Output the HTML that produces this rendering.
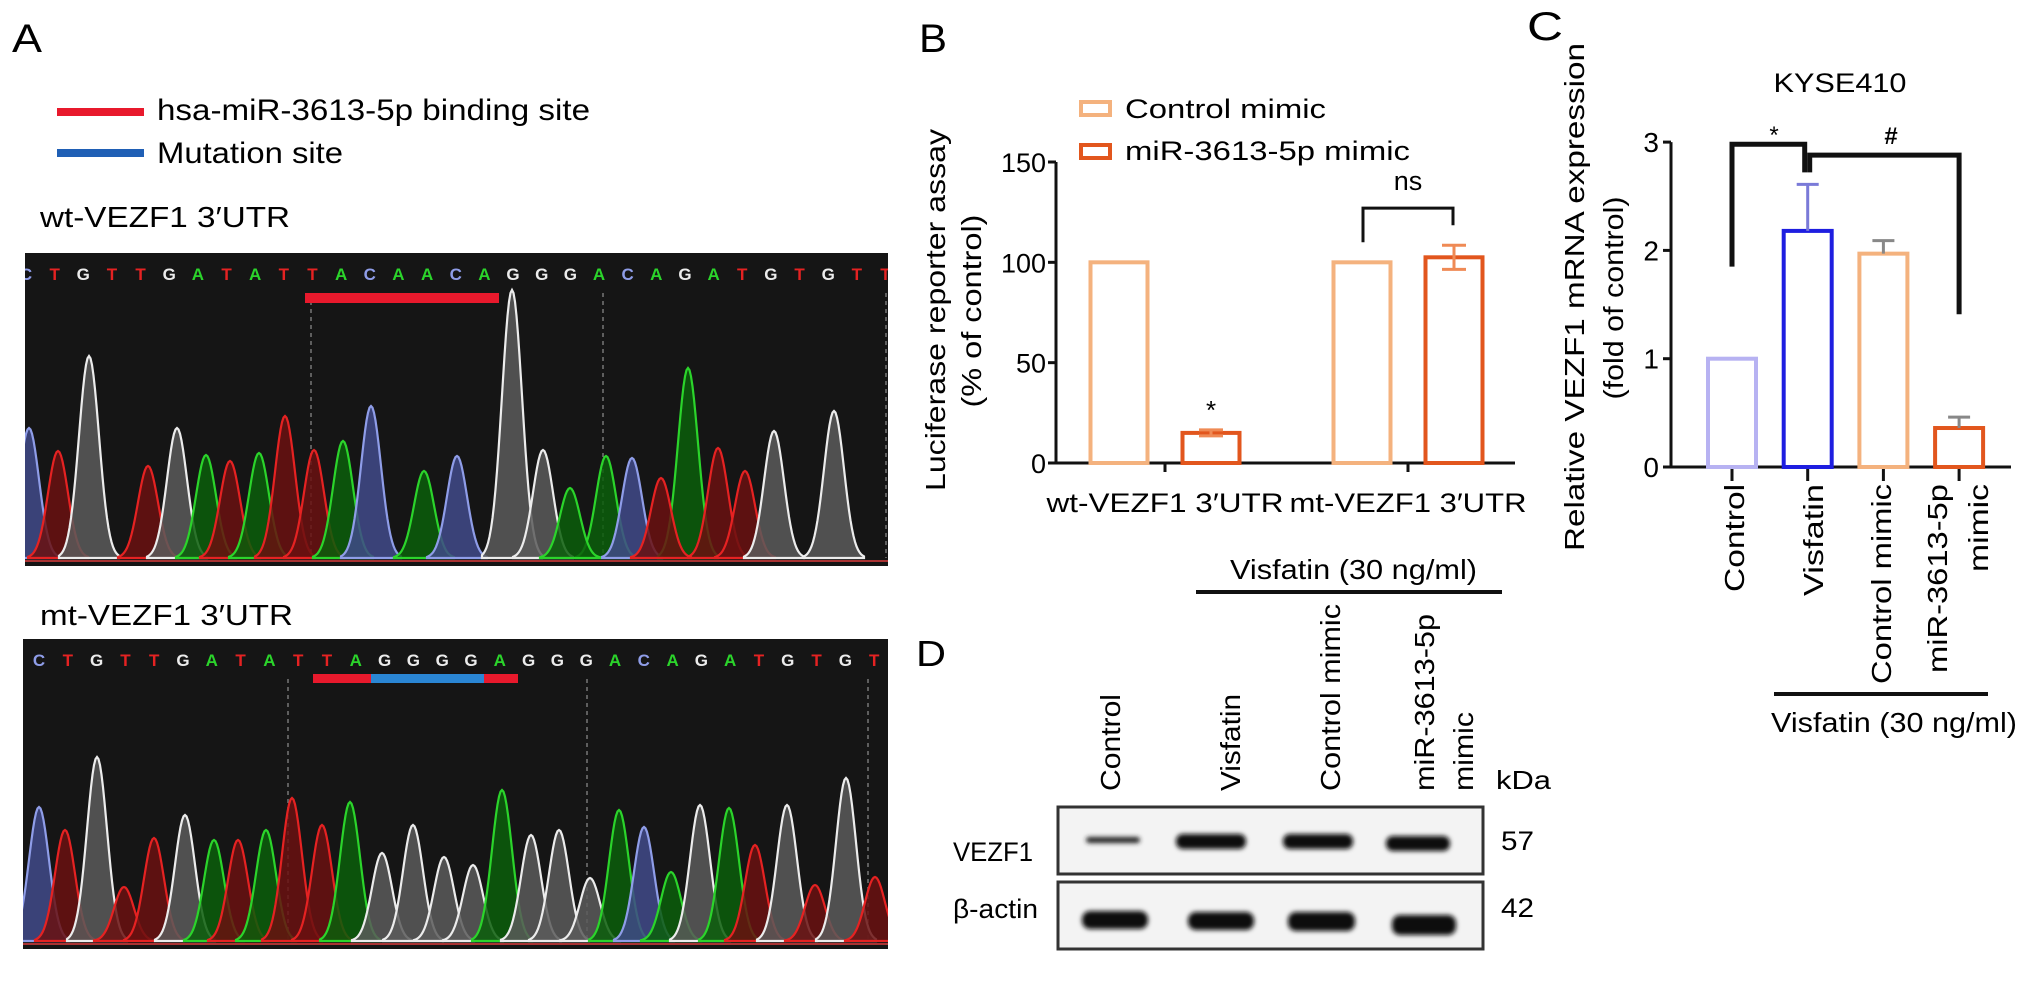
<!DOCTYPE html>
<html><head><meta charset="utf-8">
<style>
html,body{margin:0;padding:0;background:#fff;}
svg{display:block;font-family:"Liberation Sans",Arial,sans-serif;}
</style></head>
<body>
<svg id="fig" width="2032" height="988" viewBox="0 0 2032 988" xmlns="http://www.w3.org/2000/svg">
<defs>
<filter id="blur2" x="-20%" y="-50%" width="140%" height="200%"><feGaussianBlur stdDeviation="2.5"/></filter>
<clipPath id="clipWt"><rect x="25" y="253" width="863" height="313"/></clipPath>
<clipPath id="clipMt"><rect x="23" y="639" width="865" height="310"/></clipPath>
</defs>
<text x="12" y="52" font-size="40" textLength="30" lengthAdjust="spacingAndGlyphs">A</text>
<text x="919" y="52" font-size="40" textLength="28" lengthAdjust="spacingAndGlyphs">B</text>
<text x="1527" y="40" font-size="40" textLength="36" lengthAdjust="spacingAndGlyphs">C</text>
<text x="916" y="666" font-size="36" textLength="30" lengthAdjust="spacingAndGlyphs">D</text>

<g>
<rect x="57" y="108" width="87" height="8" fill="#e8192c"/>
<text x="157" y="120" font-size="30" textLength="433" lengthAdjust="spacingAndGlyphs">hsa-miR-3613-5p binding site</text>
<rect x="57" y="149" width="87" height="8" fill="#1f5fb5"/>
<text x="157" y="163" font-size="30" textLength="186" lengthAdjust="spacingAndGlyphs">Mutation site</text>
</g>
<text x="40" y="227" font-size="29" textLength="250" lengthAdjust="spacingAndGlyphs">wt-VEZF1 3′UTR</text>
<text x="40" y="625" font-size="29" textLength="253" lengthAdjust="spacingAndGlyphs">mt-VEZF1 3′UTR</text>

<g id="chromWt" clip-path="url(#clipWt)"></g>
<g id="chromMt" clip-path="url(#clipMt)"></g>

<g id="panelB">
<rect x="1081" y="102" width="29" height="13" fill="none" stroke="#f4b27e" stroke-width="4"/>
<text x="1125" y="118" font-size="27" textLength="201" lengthAdjust="spacingAndGlyphs">Control mimic</text>
<rect x="1081" y="145" width="29" height="13" fill="none" stroke="#e2561d" stroke-width="4"/>
<text x="1125" y="160" font-size="27" textLength="285" lengthAdjust="spacingAndGlyphs">miR-3613-5p mimic</text>
<g transform="translate(945,310) rotate(-90)"><text x="0" y="0" font-size="28" text-anchor="middle" textLength="362" lengthAdjust="spacingAndGlyphs">Luciferase reporter assay</text></g>
<g transform="translate(981,311) rotate(-90)"><text x="0" y="0" font-size="28" text-anchor="middle" textLength="193" lengthAdjust="spacingAndGlyphs">(% of control)</text></g>
</g>

<g id="panelC">
<text x="1840" y="92" font-size="27" text-anchor="middle" textLength="133" lengthAdjust="spacingAndGlyphs">KYSE410</text>
<g transform="translate(1584,297) rotate(-90)"><text x="0" y="0" font-size="28" text-anchor="middle" textLength="508" lengthAdjust="spacingAndGlyphs">Relative VEZF1 mRNA expression</text></g>
<g transform="translate(1623,298) rotate(-90)"><text x="0" y="0" font-size="28" text-anchor="middle" textLength="203" lengthAdjust="spacingAndGlyphs">(fold of control)</text></g>
<rect x="1774" y="692" width="214" height="4" fill="#111"/>
<text x="1771" y="732" font-size="28" textLength="246" lengthAdjust="spacingAndGlyphs">Visfatin (30 ng/ml)</text>
</g>

<g id="panelD">
<text x="1230" y="579" font-size="28" textLength="247" lengthAdjust="spacingAndGlyphs">Visfatin (30 ng/ml)</text>
<rect x="1196" y="590" width="306" height="4" fill="#111"/>
<g transform="translate(1120,791) rotate(-90)"><text font-size="28" textLength="97" lengthAdjust="spacingAndGlyphs">Control</text></g>
<g transform="translate(1240,791) rotate(-90)"><text font-size="28" textLength="97" lengthAdjust="spacingAndGlyphs">Visfatin</text></g>
<g transform="translate(1340,791) rotate(-90)"><text font-size="28" textLength="187" lengthAdjust="spacingAndGlyphs">Control mimic</text></g>
<g transform="translate(1434,791) rotate(-90)"><text font-size="28" textLength="177" lengthAdjust="spacingAndGlyphs">miR-3613-5p</text></g>
<g transform="translate(1473,791) rotate(-90)"><text font-size="28" textLength="79" lengthAdjust="spacingAndGlyphs">mimic</text></g>
<text x="1496" y="789" font-size="26" textLength="55" lengthAdjust="spacingAndGlyphs">kDa</text>
<text x="953" y="861" font-size="27" textLength="80" lengthAdjust="spacingAndGlyphs">VEZF1</text>
<text x="953" y="918" font-size="27" textLength="85" lengthAdjust="spacingAndGlyphs">β-actin</text>
<text x="1501" y="850" font-size="27" textLength="33" lengthAdjust="spacingAndGlyphs">57</text>
<text x="1501" y="917" font-size="27" textLength="33" lengthAdjust="spacingAndGlyphs">42</text>
<rect x="1058" y="807" width="425" height="67" fill="#f3f3f3" stroke="#333" stroke-width="3"/>
<rect x="1058" y="882" width="425" height="67" fill="#f3f3f3" stroke="#333" stroke-width="3"/>
<g filter="url(#blur2)">
<rect x="1086" y="837" width="54" height="6" rx="3" fill="#222"/>
<rect x="1176" y="834" width="70" height="15" rx="7" fill="#111"/>
<rect x="1283" y="834" width="70" height="15" rx="7" fill="#111"/>
<rect x="1386" y="836" width="64" height="15" rx="7" fill="#111"/>
<rect x="1082" y="911" width="66" height="18" rx="8" fill="#111"/>
<rect x="1188" y="912" width="66" height="18" rx="8" fill="#111"/>
<rect x="1288" y="912" width="67" height="19" rx="8" fill="#111"/>
<rect x="1392" y="915" width="64" height="20" rx="8" fill="#111"/>
</g>
</g>
</svg>
<script>
// ---------- Panel B data ----------
const bGroups = ["wt-VEZF1 3\u2032UTR", "mt-VEZF1 3\u2032UTR"];
const bControl = [100, 100];
const bMimic = [15, 102.5];
const bMimicErr = [1.5, 6];
const bTicks = [0, 50, 100, 150];
// ---------- Panel C data ----------
const cCategories = ["Control", "Visfatin", "Control mimic", "miR-3613-5p mimic"];
const cValues = [1.0, 2.18, 1.97, 0.36];
const cErrors = [0, 0.43, 0.12, 0.10];
const cTicks = [0, 1, 2, 3];
// ---------- Panel A chromatogram data ----------
const wtSeq = "CTGTTGATATTACAACAGGGACAGATGTGTT";
const wtPeakBase = ["C","T","G","T","G","A","T","A","T","T","A","C","A","C","G","G","A","C","A","T","T","G","G","A","T"];
const wtPeakPos = [29,58,89,148,177,206,230,259,285,314,343,371,424,457,512,543,606,632,688,718,745,774,834,570,661];
const wtPeakHeight = [130,107,202,92,130,103,97,105,142,108,117,152,87,102,268,108,102,100,190,110,87,127,147,70,80];
const mtSeq = "CTGTTGATATTAGGGGAGGGACAGATGTGT";
const mtPeakBase = ["C","T","G","T","T","G","A","T","A","T","T","A","G","G","G","G","A","G","G","G","A","C","A","G","A","T","G","T","G","T"];
const mtPeakPos = [39,65,97,124,154,185,214,238,266,292,322,350,382,413,444,473,502,531,559,590,619,644,671,700,729,755,787,815,846,875];
const mtPeakHeight = [134,111,184,54,103,126,101,101,111,143,116,139,88,116,84,76,151,106,111,63,131,114,69,136,133,96,136,56,163,64];

const NS = "http://www.w3.org/2000/svg";
function mk(tag, attrs, parent) {
  const e = document.createElementNS(NS, tag);
  for (const k in attrs) e.setAttribute(k, attrs[k]);
  parent.appendChild(e);
  return e;
}

const baseColor = {A:"#2bd42b", C:"#8f9de8", G:"#ececec", T:"#e52222"};
const fillColor = {A:"#0b5e0b", C:"#414a8a", G:"#5a5a5a", T:"#6a1111"};
function chrom(g, box, seq, x0, dx, peakBase, peakPos, peakH, dashes, bars) {
  mk("rect", {x:box.x, y:box.y, width:box.w, height:box.h, fill:"#151515"}, g);
  const yb = box.y + box.h - 8;
  mk("line", {x1:box.x, y1:yb+3, x2:box.x+box.w, y2:yb+3, stroke:"#a33", "stroke-width":2}, g);
  dashes.forEach(dx2 => {
    const l = mk("line", {x1:dx2, y1:box.y+40, x2:dx2, y2:yb, stroke:"#777", "stroke-width":1.5, "stroke-dasharray":"4 4"}, g);
    
    
  });
  for (let i = 0; i < peakPos.length; i++) {
    const cx = peakPos[i], h = peakH[i], s = 10;
    let d = "M" + (cx - 3*s) + "," + yb;
    for (let t = -3*s; t <= 3*s; t += 1.5) {
      const y = yb - h * Math.exp(-(t*t)/(2*s*s));
      d += " L" + (cx + t).toFixed(1) + "," + y.toFixed(1);
    }
    d += " L" + (cx + 3*s) + "," + yb + " Z";
    const p = mk("path", {d:d, fill:fillColor[peakBase[i]], stroke:baseColor[peakBase[i]], "stroke-width":2.2, "fill-opacity":0.85}, g);
    
    
  }
  for (let i = 0; i < seq.length; i++) {
    const t = mk("text", {x:x0 + i*dx, y:box.y+27, "font-size":17, "font-weight":"bold", "text-anchor":"middle", fill:baseColor[seq[i]]}, g);
    t.textContent = seq[i];
    
    
  }
  bars.forEach(b => {
    const r = mk("rect", {x:b[0], y:b[2], width:b[1]-b[0], height:b[3], fill:b[4]}, g);
    
    
  });
}
chrom(document.getElementById("chromWt"), {x:25, y:253, w:863, h:313}, wtSeq, 26, 28.65,
  wtPeakBase, wtPeakPos, wtPeakHeight, [311, 603, 886], [[305, 499, 293, 10, "#e8192c"]]);
chrom(document.getElementById("chromMt"), {x:23, y:639, w:865, h:310}, mtSeq, 39, 28.8,
  mtPeakBase, mtPeakPos, mtPeakHeight, [288, 587, 868],
  [[313, 371, 674, 9, "#e8192c"], [371, 484, 674, 9, "#2a86d4"], [484, 518, 674, 9, "#e8192c"]]);

// ---------- Panel B ----------
const gB = document.getElementById("panelB");
const bY0 = 463, bPx = 2.0067, bAxisX = 1056;
const yB = v => bY0 - v * bPx;
const bGroupX = [1165, 1408];
const bBarW = 57, bOff = 46;
mk("line", {x1:bAxisX, y1:yB(150), x2:bAxisX, y2:bY0, stroke:"#111", "stroke-width":3}, gB);
mk("line", {x1:bAxisX, y1:bY0, x2:1515, y2:bY0, stroke:"#111", "stroke-width":3}, gB);
bTicks.forEach(t => {
  mk("line", {x1:bAxisX-8, y1:yB(t), x2:bAxisX, y2:yB(t), stroke:"#111", "stroke-width":3}, gB);
  const tx = mk("text", {x:bAxisX-10, y:yB(t)+10, "font-size":27, "text-anchor":"end"}, gB);
  tx.textContent = t;
  
  
});
bGroups.forEach((g, i) => {
  const gx = bGroupX[i];
  mk("line", {x1:gx, y1:bY0, x2:gx, y2:bY0+9, stroke:"#111", "stroke-width":3}, gB);
  const lbl = mk("text", {x:gx, y:512, "font-size":27, "text-anchor":"middle", textLength:237, lengthAdjust:"spacingAndGlyphs"}, gB);
  lbl.textContent = g;
  
  
  const c = mk("rect", {x:gx-bOff-bBarW/2, y:yB(bControl[i]), width:bBarW, height:bY0-yB(bControl[i]), fill:"none", stroke:"#f4b27e", "stroke-width":4}, gB);
  
  
  const mx = gx + bOff;
  const m = mk("rect", {x:mx-bBarW/2, y:yB(bMimic[i]), width:bBarW, height:bY0-yB(bMimic[i]), fill:"none", stroke:"#e2561d", "stroke-width":4}, gB);
  
  
  const e1 = yB(bMimic[i] + bMimicErr[i]), e2 = yB(bMimic[i] - bMimicErr[i]);
  const eb = mk("path", {d:`M${mx},${e1} L${mx},${e2} M${mx-12},${e1} L${mx+12},${e1} M${mx-12},${e2} L${mx+12},${e2}`, stroke:"#ef8a55", "stroke-width":3, fill:"none"}, gB);
  
  
});
const star = mk("text", {x:bGroupX[0]+bOff, y:yB(bMimic[0])-14, "font-size":26, "text-anchor":"middle"}, gB);
star.textContent = "*";


const nsB = mk("path", {d:`M${bGroupX[1]-45},${yB(110)} L${bGroupX[1]-45},${yB(127)} L${bGroupX[1]+45},${yB(127)} L${bGroupX[1]+45},${yB(118.5)}`, stroke:"#111", "stroke-width":3, fill:"none"}, gB);


const nsT = mk("text", {x:bGroupX[1], y:190, "font-size":27, "text-anchor":"middle"}, gB);
nsT.textContent = "ns";



// ---------- Panel C ----------
const gC = document.getElementById("panelC");
const cY0 = 467, cPx = 108.3, cAxisX = 1671;
const yC = v => cY0 - v * cPx;
const cX = i => 1732 + i * 75.7;
const cColors = ["#b7b2f2", "#1e1ee0", "#f4b27e", "#e2561d"];
const cBarW = 48;
mk("line", {x1:cAxisX, y1:yC(3), x2:cAxisX, y2:cY0, stroke:"#111", "stroke-width":3}, gC);
mk("line", {x1:cAxisX, y1:cY0, x2:2011, y2:cY0, stroke:"#111", "stroke-width":3}, gC);
cTicks.forEach(t => {
  mk("line", {x1:cAxisX-8, y1:yC(t), x2:cAxisX, y2:yC(t), stroke:"#111", "stroke-width":3}, gC);
  const tx = mk("text", {x:cAxisX-12, y:yC(t)+10, "font-size":28, "text-anchor":"end"}, gC);
  tx.textContent = t;
  
  
});
const cLabelBase = [1744, 1823, 1891, 1947];
const cLabelLen = [108, 112, 200, 189];
cCategories.forEach((c, i) => {
  const x = cX(i);
  mk("line", {x1:x, y1:cY0, x2:x, y2:cY0+14, stroke:"#111", "stroke-width":3}, gC);
  const b = mk("rect", {x:x-cBarW/2, y:yC(cValues[i]), width:cBarW, height:cY0-yC(cValues[i]), fill:"none", stroke:cColors[i], "stroke-width":4}, gC);
  
  
  if (cErrors[i] > 0) {
    const ey = yC(cValues[i] + cErrors[i]);
    const e = mk("path", {d:`M${x},${yC(cValues[i])} L${x},${ey} M${x-11},${ey} L${x+11},${ey}`, stroke:i===1?"#7a7ad8":"#888", "stroke-width":3, fill:"none"}, gC);
    
    
  }
  const parts = c === "miR-3613-5p mimic" ? ["miR-3613-5p", "mimic"] : [c];
  parts.forEach((p, j) => {
    const gg = mk("g", {transform:`translate(${cLabelBase[i] + j*41},484) rotate(-90)`}, gC);
    const t = mk("text", {x:0, y:0, "font-size":28, "text-anchor":"end", textLength:(j===1?88:cLabelLen[i]), lengthAdjust:"spacingAndGlyphs"}, gg);
    t.textContent = p;
    
    
  });
});
const br1 = mk("path", {d:`M${cX(0)},${yC(1.85)} L${cX(0)},${yC(2.98)} L${cX(1)-3},${yC(2.98)} L${cX(1)-3},${yC(2.72)}`, stroke:"#111", "stroke-width":5, fill:"none"}, gC);


const br2 = mk("path", {d:`M${cX(1)+2},${yC(2.72)} L${cX(1)+2},${yC(2.88)} L${cX(3)},${yC(2.88)} L${cX(3)},${yC(1.41)}`, stroke:"#111", "stroke-width":5, fill:"none"}, gC);


const s1 = mk("text", {x:1774, y:143, "font-size":24, "text-anchor":"middle"}, gC);
s1.textContent = "*";


const s2 = mk("text", {x:1891, y:144, "font-size":24, "text-anchor":"middle", "font-weight":"bold"}, gC);
s2.textContent = "#";


</script>
</body></html>
